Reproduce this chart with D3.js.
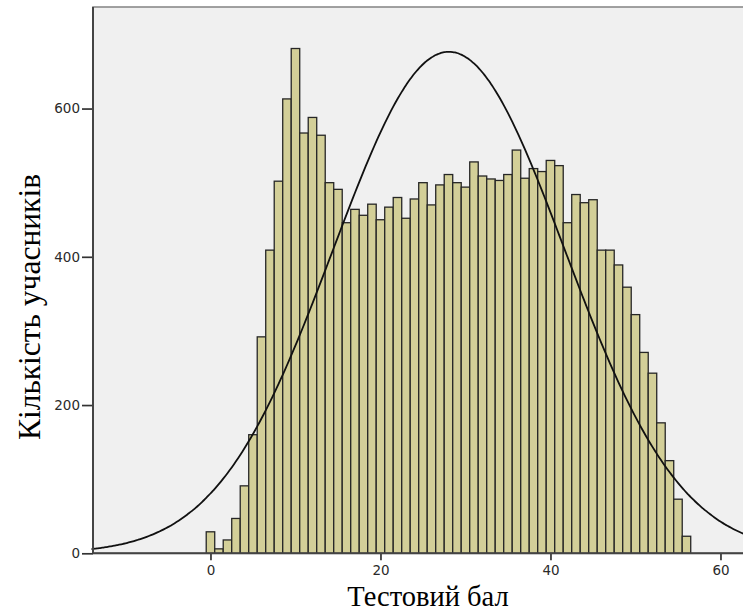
<!DOCTYPE html>
<html>
<head>
<meta charset="utf-8">
<script src="https://cdn.jsdelivr.net/npm/d3@7"></script>
<style>
  html, body { margin: 0; padding: 0; background: #ffffff; }
  svg { display: block; }
  .tick text { font-family: 'DejaVu Sans', Verdana, sans-serif !important; font-size: 13.5px !important; fill: #2a2a2a; }
</style>
</head>
<body>
<script>
// ---- data ----
const scores = [0,1,2,3,4,5,6,7,8,9,10,11,12,13,14,15,16,17,18,19,20,21,22,23,24,25,26,27,28,
  29,30,31,32,33,34,35,36,37,38,39,40,41,42,43,44,45,46,47,48,49,50,51,52,53,54,55,56];
const counts = [29,6,18,47,91,160,292,409,502,613,681,567,588,564,500,491,446,464,456,471,
  450,467,480,452,478,500,470,497,511,500,494,528,509,505,503,511,544,506,519,515,
  530,523,446,484,473,477,409,409,389,359,322,271,243,176,125,73,23];
const xTicks = [0, 20, 40, 60];
const yTicks = [0, 200, 400, 600];
const fitMean = 28.05;
const fitSD = 13.6;
const xTitle = "Тестовий бал";
const yTitle = "Кількість учасників";

// ---- layout ----
const W = 743, H = 613;
const plotL = 93, plotT = 7, plotB = 553.3, plotR = 743;

const svg = d3.select("body").append("svg").attr("width", W).attr("height", H);

const x = d3.scaleLinear().domain([-13.82, 62.65]).range([plotL, plotR]);
const y = d3.scaleLinear().domain([0, 737]).range([plotB, plotT]);

// plot background & frame
svg.append("rect").attr("x", plotL).attr("y", plotT)
  .attr("width", 760 - plotL).attr("height", plotB - plotT)
  .attr("fill", "#f0f0f0").attr("stroke", "#8a8a8a").attr("stroke-width", 1.6);

// bars
const bw = x(1) - x(0);
svg.append("g").selectAll("rect").data(scores).join("rect")
  .attr("x", (d) => x(d - 0.5))
  .attr("y", (d, i) => y(counts[i]))
  .attr("width", bw)
  .attr("height", (d, i) => y(0) - y(counts[i]))
  .attr("fill", "#d3cf98")
  .attr("stroke", "#262626")
  .attr("stroke-width", 1.3);

// normal curve
const N = d3.sum(counts);
const curveXs = d3.range(-14, 63.01, 0.25);
const pdf = (v) => N / (fitSD * Math.sqrt(2 * Math.PI)) * Math.exp(-((v - fitMean) ** 2) / (2 * fitSD * fitSD));
svg.append("path")
  .datum(curveXs)
  .attr("fill", "none")
  .attr("stroke", "#111")
  .attr("stroke-width", 1.8)
  .attr("d", d3.line().x((v) => x(v)).y((v) => y(pdf(v))).curve(d3.curveBasis));

// axes
const xAxis = d3.axisBottom(x).tickValues(xTicks).tickSize(7).tickPadding(5).tickFormat(d3.format("d"));
const yAxis = d3.axisLeft(y).tickValues(yTicks).tickSize(11).tickPadding(2).tickFormat(d3.format("d"));

const gx = svg.append("g").attr("transform", `translate(0,${plotB})`).call(xAxis);
const gy = svg.append("g").attr("transform", `translate(${plotL},0)`).call(yAxis);
[gx, gy].forEach((g) => {
  g.attr("font-size", 13.5).attr("font-family", "'DejaVu Sans', Verdana, sans-serif");
  g.select(".domain").remove();
  g.selectAll(".tick line").attr("stroke", "#333").attr("stroke-width", 1.7);
});
// axis lines
svg.append("line").attr("x1", plotL).attr("x2", plotL).attr("y1", plotT).attr("y2", plotB)
  .attr("stroke", "#444").attr("stroke-width", 2);
svg.append("line").attr("x1", plotL).attr("x2", W + 5).attr("y1", plotB).attr("y2", plotB)
  .attr("stroke", "#444").attr("stroke-width", 2);

// titles
svg.append("text").attr("x", 428).attr("y", 606).attr("text-anchor", "middle")
  .style("font-family", "'Liberation Serif', 'Times New Roman', serif").style("font-size", "28.5px")
  .attr("fill", "#000").text(xTitle);
svg.append("text").attr("transform", "translate(40,307) rotate(-90)").attr("text-anchor", "middle")
  .style("font-family", "'Liberation Serif', 'Times New Roman', serif").style("font-size", "31.5px")
  .attr("fill", "#000").text(yTitle);
</script>
</body>
</html>
